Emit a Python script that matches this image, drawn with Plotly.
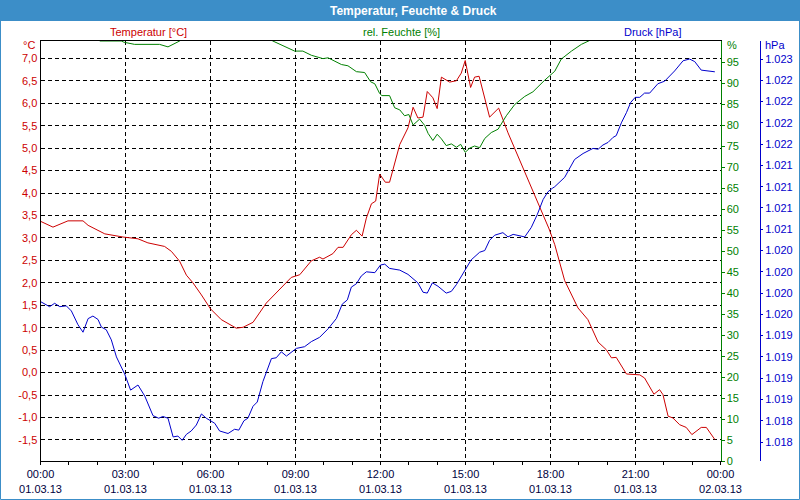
import plotly.graph_objects as go

# ---------------- data ----------------
temp_hours = [0, 0.44, 0.97, 1.5, 1.68, 2.27, 2.91, 3.44, 3.79, 4.38, 4.62, 4.91, 5.15, 5.38, 5.68,
              6.0, 6.38, 6.91, 7.15, 7.5, 7.97, 8.38, 8.85, 9.15, 9.56, 9.85, 9.97, 10.32, 10.5,
              10.68, 10.97, 11.15, 11.35, 11.5, 11.68, 11.83, 11.97, 12.17, 12.32, 12.68, 12.97,
              13.15, 13.32, 13.5, 13.65, 13.85, 14.0, 14.15, 14.44, 14.68, 14.85, 14.99, 15.18,
              15.32, 15.48, 15.85, 16.17, 16.5, 17.03, 17.38, 17.8, 17.95, 18.15, 18.5, 18.97,
              19.32, 19.68, 19.97, 20.15, 20.32, 20.68, 21.15, 21.32, 21.65, 21.85, 21.97, 22.15,
              22.32, 22.56, 22.79, 22.99, 23.32, 23.5, 23.68, 23.8]
temp_values = [3.37, 3.24, 3.38, 3.38, 3.28, 3.09, 3.02, 2.98, 2.89, 2.81, 2.70, 2.48, 2.17, 2.0, 1.73,
               1.42, 1.18, 0.99, 1.01, 1.12, 1.55, 1.81, 2.12, 2.18, 2.49, 2.57, 2.53, 2.65, 2.79,
               2.79, 3.07, 3.17, 3.04, 3.44, 3.76, 3.82, 4.42, 4.24, 4.24, 5.08, 5.45,
               5.91, 5.67, 5.69, 6.26, 6.12, 5.88, 6.58, 6.47, 6.50, 6.67, 6.95, 6.35,
               6.58, 6.60, 5.69, 5.89, 5.34, 4.56, 4.07, 3.41, 3.20, 2.85, 2.05, 1.44,
               1.18, 0.68, 0.51, 0.33, 0.34, -0.03, -0.05, -0.12, -0.48, -0.38, -0.49, -0.97,
               -1.01, -1.16, -1.22, -1.38, -1.22, -1.22, -1.38, -1.49]

hum_hours = [0, 2.0, 2.1, 2.85, 2.95, 3.32, 4.2, 4.5, 4.91, 5.0, 8.1, 8.2, 8.97, 9.26, 9.56, 9.97,
             10.15, 10.62, 10.85, 11.15, 11.44, 11.65, 11.8, 11.97, 12.05, 12.32, 12.5, 12.68,
             12.85, 13.0, 13.15, 13.38, 13.56, 13.68, 13.85, 14.0, 14.15, 14.32, 14.5, 14.68,
             14.83, 14.99, 15.15, 15.32, 15.5, 15.68, 15.91, 16.15, 16.44, 16.74, 17.09, 17.38,
             17.8, 18.0, 18.15, 18.38, 18.74, 19.09, 19.38, 19.5, 23.8]
hum_values = [100.5, 100.5, 100, 100, 99.7, 99.2, 99.2, 98.6, 100, 100.5, 100.5, 100, 97.6, 97.6, 96.6, 95.8,
              96.0, 94.4, 94.1, 92.7, 92.5, 90.3, 89.8, 87.5, 87.0, 87.0, 84.1, 83.6,
              82.2, 82.5, 80.0, 81.4, 79.9, 78.0, 76.3, 77.8, 76.7, 75.1, 75.5, 74.7,
              75.4, 73.5, 74.5, 75.0, 74.6, 76.8, 78.2, 79.0, 82.2, 84.9, 86.8, 87.9,
              90.7, 91.8, 92.8, 95.7, 97.6, 99.2, 100, 100.5, 100.5]

press_hours = [0, 0.32, 0.5, 0.68, 0.91, 1.09, 1.32, 1.5, 1.68, 1.85, 2.03, 2.15, 2.32, 2.5, 2.68,
               2.97, 3.18, 3.44, 3.68, 3.97, 4.17, 4.32, 4.5, 4.68, 4.85, 5.0, 5.15, 5.32, 5.5,
               5.68, 5.85, 6.0, 6.15, 6.32, 6.62, 6.85, 7.0, 7.18, 7.32, 7.5, 7.65, 7.85, 8.15,
               8.32, 8.5, 8.68, 9.03, 9.32, 9.56, 9.85, 10.15, 10.44, 10.65, 10.83, 10.97, 11.15,
               11.32, 11.5, 11.8, 12.0, 12.15, 12.32, 12.68, 12.97, 13.32, 13.5, 13.65, 13.83,
               14.03, 14.32, 14.5, 14.68, 14.99, 15.2, 15.5, 15.68, 15.85, 16.03, 16.32, 16.5,
               16.68, 17.09, 17.32, 17.53, 17.74, 17.91, 18.06, 18.15, 18.5, 18.68, 18.85, 19.15,
               19.5, 19.68, 19.85, 20.03, 20.21, 20.32, 20.5, 20.68, 20.83, 20.99, 21.15, 21.32,
               21.5, 21.79, 22.03, 22.38, 22.68, 22.91, 23.09, 23.32, 23.56, 23.8]
press_values = [1019.85, 1019.79, 1019.83, 1019.79, 1019.80, 1019.74, 1019.58, 1019.49, 1019.65,
                1019.68, 1019.64, 1019.55, 1019.52, 1019.40, 1019.20, 1019.00, 1018.81, 1018.87,
                1018.74, 1018.51, 1018.48, 1018.50, 1018.48, 1018.26, 1018.27, 1018.22, 1018.29,
                1018.33, 1018.40, 1018.53, 1018.48, 1018.45, 1018.42, 1018.33, 1018.30, 1018.35,
                1018.34, 1018.45, 1018.48, 1018.62, 1018.67, 1018.91, 1019.18, 1019.19, 1019.26,
                1019.21, 1019.30, 1019.32, 1019.38, 1019.43, 1019.53, 1019.65, 1019.82, 1019.87,
                1020.02, 1020.06, 1020.15, 1020.20, 1020.19, 1020.28, 1020.29, 1020.24, 1020.22,
                1020.17, 1020.07, 1019.96, 1019.95, 1020.07, 1020.03, 1019.95, 1019.97, 1020.05,
                1020.23, 1020.34, 1020.43, 1020.45, 1020.57, 1020.63, 1020.66, 1020.61, 1020.64,
                1020.61, 1020.72, 1020.87, 1021.05, 1021.14, 1021.18, 1021.20, 1021.31, 1021.42,
                1021.52, 1021.59, 1021.65, 1021.64, 1021.69, 1021.72, 1021.78, 1021.80, 1021.95,
                1022.07, 1022.19, 1022.25, 1022.25, 1022.30, 1022.30, 1022.41, 1022.44, 1022.56,
                1022.68, 1022.70, 1022.67, 1022.57, 1022.56, 1022.55]

x_tick_hours = [0, 3, 6, 9, 12, 15, 18, 21, 24]
temp_ticks = [-1.5, -1.0, -0.5, 0.0, 0.5, 1.0, 1.5, 2.0, 2.5, 3.0, 3.5, 4.0, 4.5, 5.0, 5.5, 6.0, 6.5, 7.0]
hum_ticks = [0, 5, 10, 15, 20, 25, 30, 35, 40, 45, 50, 55, 60, 65, 70, 75, 80, 85, 90, 95]
press_ticks = [1018.2 + 0.25 * i for i in range(19)]

title_text = "Temperatur, Feuchte & Druck"
series_names = ["Temperatur [°C]", "rel. Feuchte [%]", "Druck [hPa]"]

# ---------------- styling ----------------
RED = "#cc0000"
GREEN = "#008000"
BLUE = "#0000cc"
BAR = "#3c8ec8"
FONT = "Liberation Sans, Arial, sans-serif"
W, H = 800, 500


def px(xp):
    return xp / W


def py(yp):
    return 1 - yp / H


x_labels = [f"{h % 24:02d}:00<br>{'01' if h < 24 else '02'}.03.13" for h in x_tick_hours]
temp_labels = [f"{v:.1f}".replace(".", ",") for v in temp_ticks]
press_labels = [f"{round(v):,}".replace(",", ".") for v in press_ticks]

fig = go.Figure()
fig.add_trace(go.Scatter(x=temp_hours, y=temp_values, mode="lines", line=dict(color=RED, width=1),
                         name=series_names[0], yaxis="y"))
fig.add_trace(go.Scatter(x=hum_hours, y=hum_values, mode="lines", line=dict(color=GREEN, width=1),
                         name=series_names[1], yaxis="y2"))
fig.add_trace(go.Scatter(x=press_hours, y=press_values, mode="lines", line=dict(color=BLUE, width=1),
                         name=series_names[2], yaxis="y3"))

grid_dash = "4px,3px"
fig.update_layout(
    width=W, height=H,
    margin=dict(l=0, r=0, t=0, b=0, autoexpand=False),
    paper_bgcolor="white", plot_bgcolor="white",
    showlegend=False,
    font=dict(family=FONT, size=11),
    xaxis=dict(
        domain=[px(40.5), px(720.5)], range=[0, 24], automargin=False,
        tickvals=x_tick_hours, ticktext=x_labels,
        ticks="outside", ticklen=3, tickcolor="black",
        minor=dict(dtick=1, tick0=0, ticks="outside", ticklen=3, tickcolor="black", showgrid=False),
        showgrid=True, gridcolor="black", griddash=grid_dash, gridwidth=1,
        showline=True, linecolor="black", linewidth=1, mirror=True,
        zeroline=False, tickfont=dict(color="#000040", size=11, family=FONT),
        fixedrange=True,
    ),
    yaxis=dict(
        domain=[py(461), py(41)], range=[-1.968, 7.385], automargin=False,
        tickvals=temp_ticks, ticktext=temp_labels,
        ticks="", showgrid=True, gridcolor="black", griddash=grid_dash, gridwidth=1,
        showline=True, linecolor="black", linewidth=1,
        zeroline=False, tickfont=dict(color=RED, size=11, family=FONT),
    ),
    yaxis2=dict(
        overlaying="y", side="right", anchor="x", range=[0, 100], automargin=False,
        tickvals=hum_ticks, ticks="outside", ticklen=3, tickcolor=GREEN,
        showgrid=False, showline=True, linecolor=GREEN, linewidth=1,
        zeroline=False, tickfont=dict(color=GREEN, size=11, family=FONT),
    ),
    yaxis3=dict(
        overlaying="y", side="right", anchor="free", position=px(760), automargin=False,
        range=[1017.977, 1022.912],
        tickvals=press_ticks, ticktext=press_labels, ticks="outside", ticklen=2, tickcolor=BLUE,
        showgrid=False, showline=True, linecolor=BLUE, linewidth=1,
        zeroline=False, tickfont=dict(color=BLUE, size=11, family=FONT),
    ),
    shapes=[
        dict(type="rect", xref="paper", yref="paper", x0=0, x1=1, y0=py(21), y1=1,
             fillcolor=BAR, line=dict(width=0), layer="above"),
        dict(type="rect", xref="paper", yref="paper", x0=px(0.5), x1=px(799.5), y0=py(499.5), y1=py(0.5),
             line=dict(color=BAR, width=1), fillcolor="rgba(0,0,0,0)", layer="above"),
    ],
    annotations=[
        dict(text=f"<b>{title_text}</b>", x=px(413), y=py(10.5), xref="paper", yref="paper",
             showarrow=False, font=dict(color="white", size=12, family=FONT), xanchor="center", yanchor="middle"),
        dict(text=series_names[0], x=px(148), y=py(32), xref="paper", yref="paper", showarrow=False,
             font=dict(color=RED, size=11, family=FONT), xanchor="center", yanchor="middle"),
        dict(text=series_names[1], x=px(402), y=py(32), xref="paper", yref="paper", showarrow=False,
             font=dict(color=GREEN, size=11, family=FONT), xanchor="center", yanchor="middle"),
        dict(text=series_names[2], x=px(652), y=py(32), xref="paper", yref="paper", showarrow=False,
             font=dict(color=BLUE, size=11, family=FONT), xanchor="center", yanchor="middle"),
        dict(text="°C", x=px(37), y=py(45), xref="paper", yref="paper", showarrow=False,
             font=dict(color=RED, size=11, family=FONT), xanchor="right", yanchor="middle"),
        dict(text="%", x=px(725), y=py(45), xref="paper", yref="paper", showarrow=False,
             font=dict(color=GREEN, size=11, family=FONT), xanchor="left", yanchor="middle"),
        dict(text="hPa", x=px(763), y=py(45), xref="paper", yref="paper", showarrow=False,
             font=dict(color=BLUE, size=11, family=FONT), xanchor="left", yanchor="middle"),
    ],
)

fig.write_html("out.html")
